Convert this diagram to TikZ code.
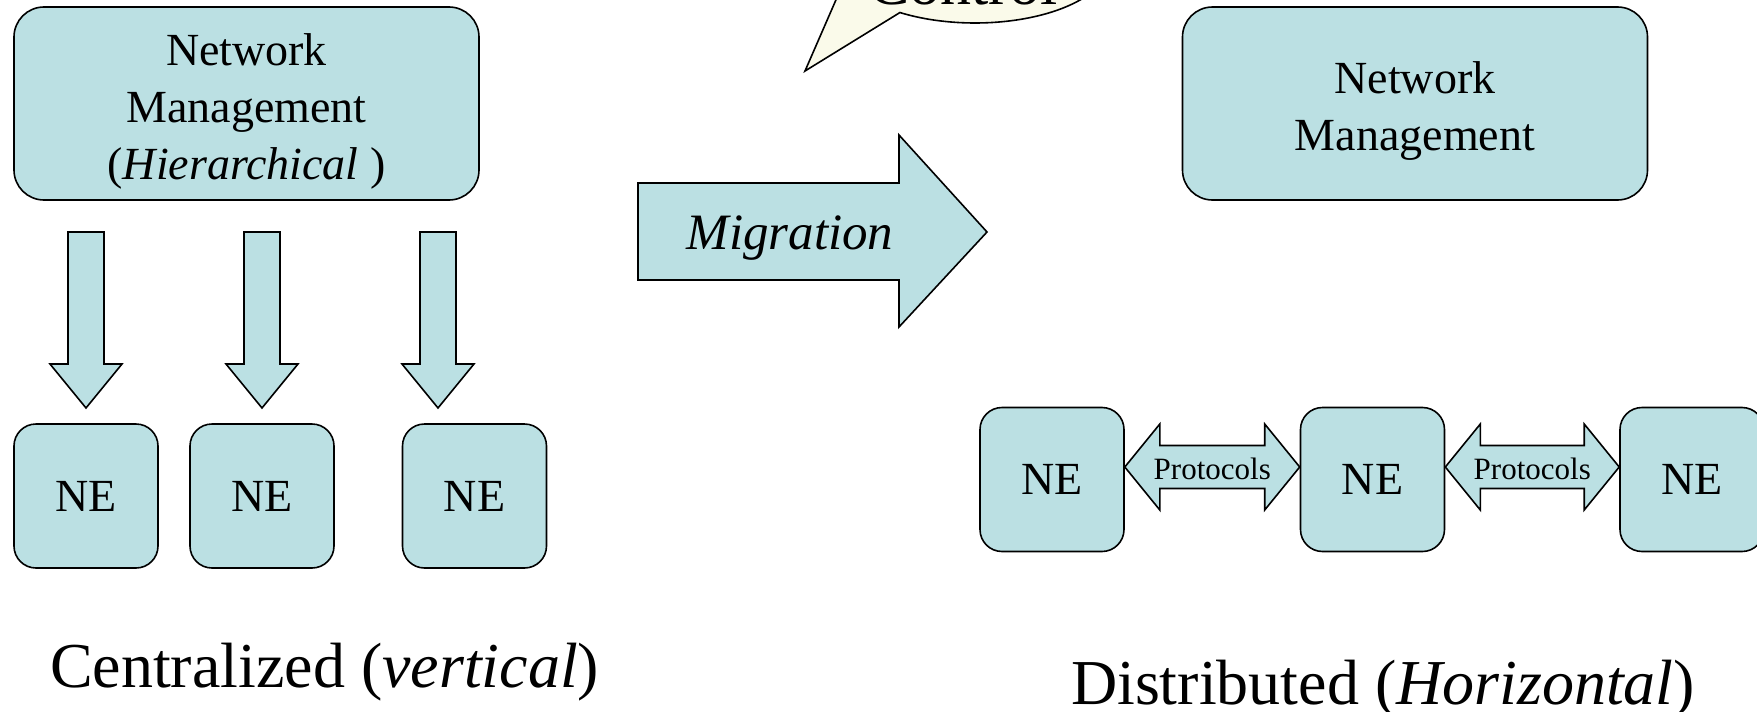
\documentclass[tikz,border=0pt]{standalone}
\usepackage{fontspec}
\setmainfont{Liberation Serif}
\usetikzlibrary{calc}
\definecolor{boxfill}{RGB}{187,224,227}
\definecolor{callfill}{RGB}{250,250,234}
\tikzset{
  outl/.style={draw=black, line width=1.6pt, line join=miter},
  nmbox/.style={outl, fill=boxfill, rounded corners=30pt, minimum width=465pt, minimum height=193pt, align=center, inner sep=0pt, font=\fontsize{46}{57}\selectfont},
  nebox/.style={outl, fill=boxfill, rounded corners=22pt, minimum width=144pt, minimum height=144pt, inner sep=0pt, font=\fontsize{46}{55}\selectfont},
  blockarrow/.style={outl, fill=boxfill},
  plain/.style={inner sep=0pt, outer sep=0pt},
  pics/downarrow/.style={code={\draw[blockarrow] (-18,0) -- (18,0) -- (18,132) -- (36,132) -- (0,176) -- (-36,132) -- (-18,132) -- cycle;}},
}
\newcommand\dblarr[2]{%
  \draw[blockarrow] let \p1=(#1), \p2=(#2) in
    (\x1,\y1) -- (\x1+35pt,\y1+43pt) -- (\x1+35pt,\y1+21.5pt) -- (\x2-35pt,\y1+21.5pt) -- (\x2-35pt,\y1+43pt)
    -- (\x2,\y1) -- (\x2-35pt,\y1-43pt) -- (\x2-35pt,\y1-21.5pt) -- (\x1+35pt,\y1-21.5pt) -- (\x1+35pt,\y1-43pt) -- cycle;}
\begin{document}
\begin{tikzpicture}[x=1pt,y=-1pt]
\useasboundingbox (0,0) rectangle (1757,712);
\clip (0,0) rectangle (1757,712);
% callout (cut off at the top)
\draw[outl, fill=callfill] (975,-40) ++(162.7:136 and 63)
  arc[start angle=162.7, end angle=483.5, x radius=136, y radius=63] -- (805,71) -- cycle;
\node[plain, anchor=base, font=\fontsize{62}{70}\selectfont] (ctl) at (963,5) {Control};
% left: centralized
\node[nmbox] (nmL) at (246.5,103.5) {\rule{0pt}{47pt}Network\\Management\\(\textit{Hierarchical} )};
\node[nebox] (neL1) at (86,496) {NE};
\node[nebox] (neL2) at (262,496) {NE};
\node[nebox] (neL3) at (474.5,496) {NE};
\pic at (86,232) {downarrow};
\pic at (262,232) {downarrow};
\pic at (438,232) {downarrow};
\node[plain, anchor=base west, font=\fontsize{64}{70}\selectfont] (cent) at (50,687) {Centralized (\textit{vertical})};
% migration arrow
\draw[blockarrow] (638,183) -- (899,183) -- (899,135) -- (987,232) -- (899,327) -- (899,280) -- (638,280) -- cycle;
\node[plain, anchor=base, font=\fontsize{51}{60}\selectfont\itshape] (mig) at (790,249) {Migration};
% right: distributed
\node[nmbox] (nmR) at (1415,103.5) {\rule{0pt}{47pt}Network\\Management};
\node[nebox] (neR1) at (1052,479.5) {NE};
\node[nebox] (neR2) at (1372.5,479.5) {NE};
\node[nebox] (neR3) at (1692,479.5) {NE};
\coordinate (pa1) at ([yshift=12.5pt]neR1.east);
\coordinate (pb1) at ([yshift=12.5pt]neR2.west);
\coordinate (pa2) at ([yshift=12.5pt]neR2.east);
\coordinate (pb2) at ([yshift=12.5pt]neR3.west);
\dblarr{pa1}{pb1}
\dblarr{pa2}{pb2}
\node[plain, yshift=-2pt, font=\fontsize{31}{36}\selectfont] (pt1) at ($(pa1)!0.5!(pb1)$) {Protocols};
\node[plain, yshift=-2pt, font=\fontsize{31}{36}\selectfont] (pt2) at ($(pa2)!0.5!(pb2)$) {Protocols};
\node[plain, anchor=base west, font=\fontsize{64}{70}\selectfont] (dist) at (1071,704) {Distributed (\textit{Horizontal})};
\end{tikzpicture}
\end{document}
